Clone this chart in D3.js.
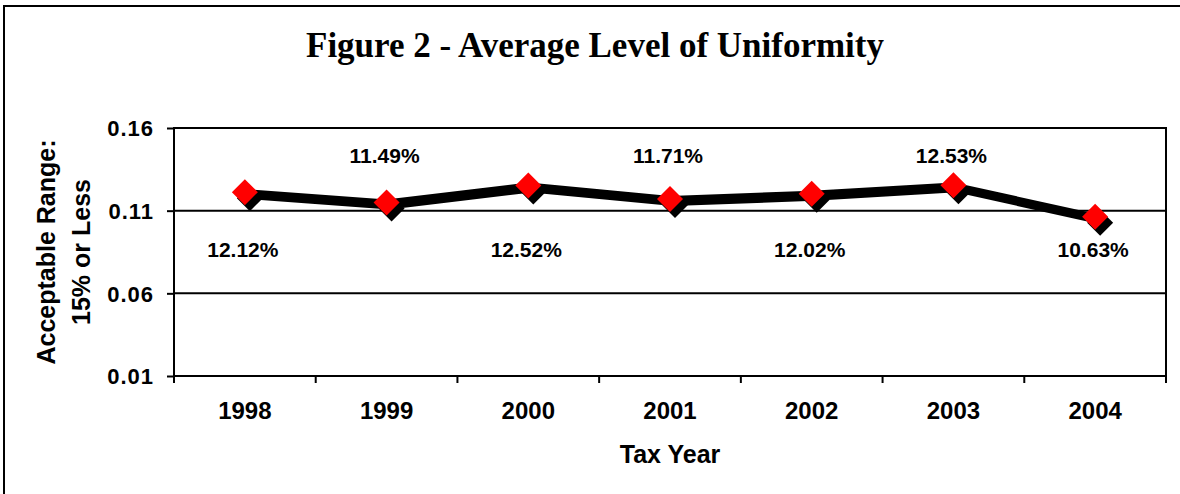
<!DOCTYPE html>
<html>
<head>
<meta charset="utf-8">
<script src="https://cdn.jsdelivr.net/npm/d3@7"></script>
<style>
  html, body { margin: 0; padding: 0; background: #fff; }
  svg { display: block; }
  text { font-family: "Liberation Sans", Arial, sans-serif; font-weight: bold; fill: #000; }
</style>
</head>
<body>
<svg id="chart" width="1180" height="494"></svg>
<script>
// Average level of uniformity by tax year
const years = ["1998", "1999", "2000", "2001", "2002", "2003", "2004"];
const uniformity = [0.1212, 0.1149, 0.1252, 0.1171, 0.1202, 0.1253, 0.1063];
const valueLabels = ["12.12%", "11.49%", "12.52%", "11.71%", "12.02%", "12.53%", "10.63%"];
const labelSide = ["below", "above", "below", "above", "below", "above", "below"];
const yTicks = [0.01, 0.06, 0.11, 0.16];

const titleText = "Figure 2 - Average Level of Uniformity";
const xTitle = "Tax Year";
const yTitleLines = ["Acceptable Range:", "15% or Less"];

const W = 1180, H = 494;
const plot = { left: 174, right: 1166, top: 128, bottom: 376 };

const svg = d3.select("#chart");

// outer frame (runs past the right and bottom edges)
svg.append("rect")
  .attr("x", 4).attr("y", 6)
  .attr("width", W + 10).attr("height", H + 10)
  .attr("fill", "#fff").attr("stroke", "#000").attr("stroke-width", 2);

svg.append("text")
  .attr("x", 595).attr("y", 57)
  .attr("text-anchor", "middle")
  .style("font-family", "'Liberation Serif', 'Times New Roman', serif")
  .style("font-size", "35px")
  .text(titleText);

const x = d3.scaleBand().domain(years).range([plot.left, plot.right]).paddingInner(0).paddingOuter(0);
const y = d3.scaleLinear().domain([0.01, 0.16]).range([plot.bottom, plot.top]);
const cx = d => x(d) + x.bandwidth() / 2;

// horizontal gridlines
svg.append("g")
  .selectAll("line")
  .data(yTicks.filter(t => t > 0.01 && t < 0.16))
  .join("line")
  .attr("x1", plot.left).attr("x2", plot.right)
  .attr("y1", d => y(d)).attr("y2", d => y(d))
  .attr("stroke", "#000").attr("stroke-width", 2);

// plot frame (top and right)
svg.append("path")
  .attr("d", `M${plot.left},${plot.top}H${plot.right}V${plot.bottom}`)
  .attr("fill", "none").attr("stroke", "#000").attr("stroke-width", 2);

// y axis
const yAxis = svg.append("g")
  .attr("transform", `translate(${plot.left},0)`)
  .call(d3.axisLeft(y).tickValues(yTicks).tickFormat(d3.format(".2f")).tickSize(7).tickPadding(13));
yAxis.select(".domain").attr("stroke-width", 2).attr("d", `M0,${plot.top - 1}V${plot.bottom + 1}`);
yAxis.selectAll(".tick line").attr("stroke-width", 2);
yAxis.selectAll(".tick text")
  .style("font-size", "22px").style("font-family", "'Liberation Sans', Arial, sans-serif")
  .style("font-weight", "bold").style("letter-spacing", "1px").attr("dy", "0.36em");

// x axis with ticks on category boundaries
const xAxis = svg.append("g")
  .attr("transform", `translate(0,${plot.bottom})`)
  .call(d3.axisBottom(x).tickSize(0).tickPadding(26));
xAxis.select(".domain").attr("stroke-width", 2).attr("d", `M${plot.left - 1},0H${plot.right + 1}`);
xAxis.selectAll(".tick text")
  .style("font-size", "24px").style("font-family", "'Liberation Sans', Arial, sans-serif")
  .style("font-weight", "bold");
xAxis.selectAll("line.bound")
  .data(years.map(d => x(d)).concat([plot.right]))
  .join("line")
  .attr("class", "bound")
  .attr("x1", d => d).attr("x2", d => d)
  .attr("y1", 0).attr("y2", 7)
  .attr("stroke", "#000").attr("stroke-width", 2);

// axis titles
svg.append("text")
  .attr("x", (plot.left + plot.right) / 2).attr("y", 463)
  .attr("text-anchor", "middle")
  .style("font-size", "25px")
  .text(xTitle);

const yTitle = svg.append("text")
  .attr("transform", `translate(55,${(plot.top + plot.bottom) / 2}) rotate(-90)`)
  .attr("text-anchor", "middle")
  .style("font-size", "25px");
yTitle.selectAll("tspan")
  .data(yTitleLines)
  .join("tspan")
  .attr("x", 0)
  .attr("dy", (d, i) => i === 0 ? 0 : 35)
  .text(d => d);

// series line with drop shadow
const line = d3.line().x((d, i) => cx(years[i])).y(d => y(d));
svg.append("path")
  .datum(uniformity)
  .attr("d", line)
  .attr("transform", "translate(3,4)")
  .attr("fill", "none").attr("stroke", "#000").attr("stroke-width", 6)
  .attr("stroke-linejoin", "round");
svg.append("path")
  .datum(uniformity)
  .attr("d", line)
  .attr("fill", "none").attr("stroke", "#000").attr("stroke-width", 6)
  .attr("stroke-linejoin", "round");

// diamond markers with shadows
const diamond = r => `M0,${-r}L${r},0L0,${r}L${-r},0Z`;
const pts = svg.append("g");
pts.selectAll("path.shadow")
  .data(uniformity)
  .join("path")
  .attr("class", "shadow")
  .attr("d", diamond(13))
  .attr("transform", (d, i) => `translate(${cx(years[i]) + 5},${y(d) + 6})`)
  .attr("fill", "#000");
pts.selectAll("path.marker")
  .data(uniformity)
  .join("path")
  .attr("class", "marker")
  .attr("d", diamond(13))
  .attr("transform", (d, i) => `translate(${cx(years[i])},${y(d)})`)
  .attr("fill", "#ff0000");

// value labels
svg.append("g")
  .selectAll("text")
  .data(uniformity)
  .join("text")
  .attr("x", (d, i) => cx(years[i]) - 2)
  .attr("y", (d, i) => labelSide[i] === "above" ? 163 : 257)
  .attr("text-anchor", "middle")
  .style("font-size", "21px")
  .text((d, i) => valueLabels[i]);
</script>
</body>
</html>
